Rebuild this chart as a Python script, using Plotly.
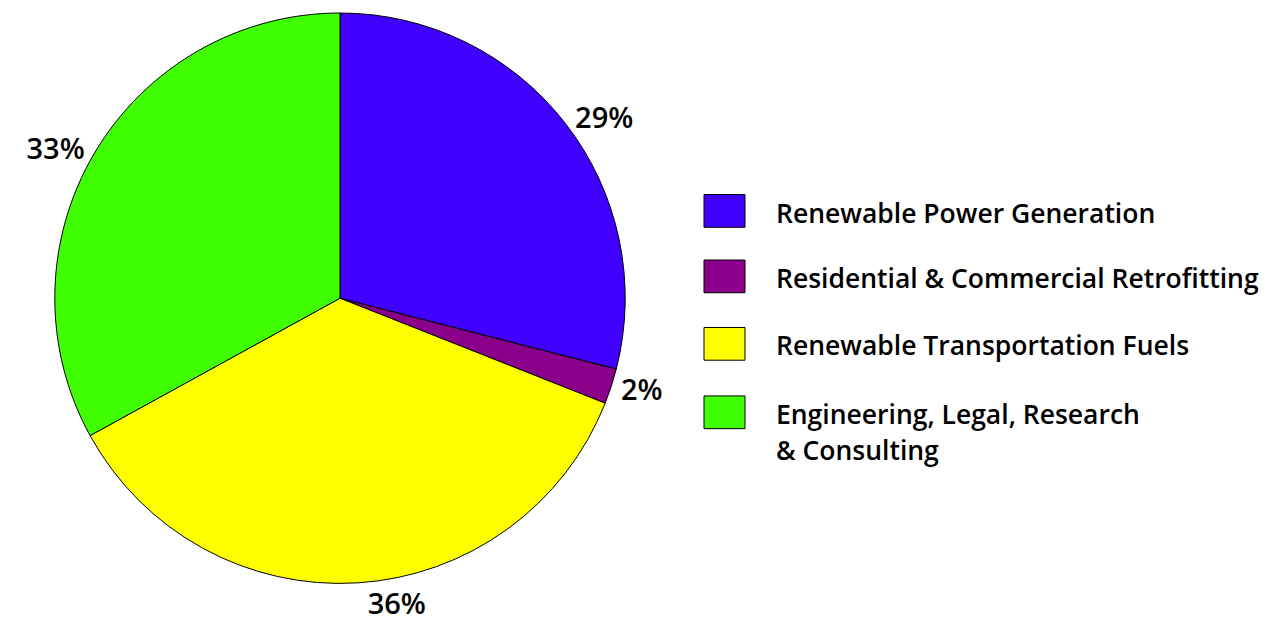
import plotly.graph_objects as go

categories = [
    "Renewable Power Generation",
    "Residential & Commercial Retrofitting",
    "Renewable Transportation Fuels",
    "Engineering, Legal, Research<br>& Consulting",
]
values = [29, 2, 36, 33]
colors = ["#4000FF", "#8B008B", "#FFFF00", "#40FF00"]

W, H = 1267, 628
OFFX, OFFY = 8, 11  # page body offset
FONT = "Open Sans"

cx, cy, R = 340 - OFFX, 296 - OFFY, 290

fig = go.Figure()
fig.add_trace(go.Pie(
    labels=categories,
    values=values,
    sort=False,
    direction="clockwise",
    rotation=0,
    marker=dict(colors=colors, line=dict(color="black", width=1)),
    textinfo="percent",
    texttemplate="%{percent:.0%}",
    textposition="outside",
    textfont=dict(family=FONT, size=29, color="black", weight=600),
    showlegend=False,
    hoverinfo="skip",
    domain=dict(x=[(cx - R) / W, (cx + R) / W],
                y=[(H - cy - R) / H, min(1.0, (H - cy + R) / H)]),
))

# custom legend
shapes = []
annotations = []
box_tops = [194, 260, 328, 397]
LINE_GAP = 36
for i, (cat, col) in enumerate(zip(categories, colors)):
    top = box_tops[i] - OFFY
    shapes.append(dict(type="rect", xref="paper", yref="paper",
                       x0=(704 - OFFX) / W, x1=(745 - OFFX) / W,
                       y0=1 - (top + 33) / H, y1=1 - top / H,
                       fillcolor=col, line=dict(color="black", width=1)))
    for j, line in enumerate(cat.split("<br>")):
        annotations.append(dict(xref="paper", yref="paper",
                                x=(774 - OFFX) / W,
                                y=1 - (top - 2 + j * LINE_GAP) / H,
                                xanchor="left", yanchor="top", align="left",
                                text=line, showarrow=False,
                                font=dict(family=FONT, size=26.5, color="black",
                                          weight=600)))

fig.update_layout(
    width=W, height=H,
    margin=dict(l=0, r=0, t=0, b=0),
    paper_bgcolor="white",
    plot_bgcolor="white",
    shapes=shapes,
    annotations=annotations,
)

fig.write_html("out.html")
